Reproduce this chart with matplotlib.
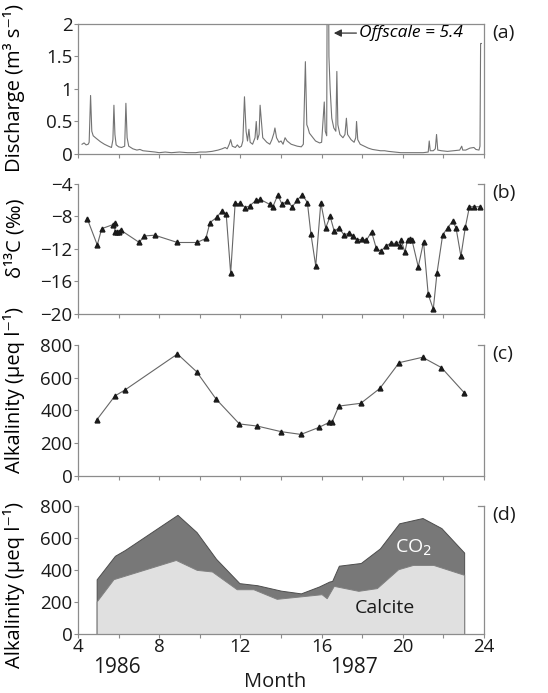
import numpy as np
import matplotlib
matplotlib.use('Agg')
import matplotlib.pyplot as plt

plt.rcParams['font.family'] = ['Open Sans', 'DejaVu Sans']
plt.rcParams['font.size'] = 13

# (a) discharge, m3/s  (month, value)
q_month = [4.2, 4.3, 4.4, 4.5, 4.55, 4.62, 4.68, 4.75, 4.9, 5.1, 5.3, 5.5, 5.65, 5.72, 5.77,
           5.82, 5.88, 6.0, 6.15, 6.3, 6.36, 6.42, 6.5, 6.7, 6.9, 7.05, 7.2, 7.5, 7.8, 8.0,
           8.3, 8.6, 9.0, 9.4, 9.8, 10.0, 10.3, 10.6, 10.9, 11.1, 11.25, 11.35, 11.45, 11.52, 11.6,
           11.75, 11.85, 11.95, 12.05, 12.12, 12.2, 12.28, 12.35, 12.42, 12.48, 12.6, 12.72, 12.78, 12.84,
           12.92, 12.97, 13.02, 13.1, 13.3, 13.45, 13.55, 13.65, 13.7, 13.78, 13.9, 14.0, 14.1, 14.2,
           14.3, 14.5, 14.8, 15.0, 15.1, 15.2, 15.27, 15.33, 15.4, 15.5, 15.7, 15.9, 16.0, 16.08,
           16.13, 16.18, 16.25, 16.3, 16.36, 16.42, 16.5, 16.6, 16.7, 16.75, 16.8, 16.9, 17.05, 17.15,
           17.22, 17.28, 17.45, 17.6, 17.68, 17.72, 17.78, 17.9, 18.1, 18.3, 18.5, 18.7, 18.9, 19.1,
           19.3, 19.6, 19.9, 20.3, 20.7, 21.0, 21.25, 21.3, 21.35, 21.5, 21.6, 21.66, 21.72, 21.9,
           22.2, 22.5, 22.8, 22.9, 22.95, 23.1, 23.3, 23.5, 23.6, 23.75, 23.8, 23.83, 23.87]
q_value = [0.15, 0.17, 0.14, 0.15, 0.18, 0.90, 0.35, 0.28, 0.24, 0.19, 0.15, 0.12, 0.10, 0.22, 0.75,
           0.30, 0.14, 0.11, 0.10, 0.12, 0.78, 0.25, 0.12, 0.08, 0.06, 0.07, 0.05, 0.04, 0.03, 0.02,
           0.03, 0.02, 0.03, 0.02, 0.02, 0.03, 0.03, 0.04, 0.06, 0.08, 0.10, 0.08, 0.15, 0.22, 0.12,
           0.10, 0.14, 0.10, 0.12, 0.20, 0.88, 0.35, 0.20, 0.38, 0.18, 0.15, 0.25, 0.50, 0.22,
           0.30, 0.75, 0.55, 0.25, 0.18, 0.15, 0.22, 0.32, 0.40, 0.25, 0.18, 0.20, 0.15, 0.25,
           0.20, 0.15, 0.12, 0.11, 0.15, 1.42, 0.45, 0.40, 0.32, 0.28, 0.20, 0.17, 0.18, 0.55,
           0.80, 0.35, 0.28, 5.4, 1.5, 1.0, 0.55, 0.40, 0.35, 1.27, 0.45, 0.30, 0.25, 0.30,
           0.55, 0.30, 0.22, 0.18, 0.25, 0.50, 0.22, 0.15, 0.12, 0.09, 0.07, 0.06, 0.05, 0.05,
           0.04, 0.03, 0.02, 0.02, 0.02, 0.02, 0.03, 0.20, 0.05, 0.05, 0.08, 0.30, 0.06, 0.05,
           0.04, 0.05, 0.06, 0.12, 0.06, 0.06, 0.09, 0.10, 0.07, 0.06, 0.12, 1.70, 1.70]

# (b) delta 13C, per mil
d13c_month = [4.46, 4.95, 5.17, 5.72, 5.8, 5.82, 5.92, 6.02, 6.12, 7.02, 7.25, 7.78, 8.9, 9.86,
              10.3, 10.5, 10.84, 11.09, 11.3, 11.52, 11.74, 11.99, 12.24, 12.45, 12.78, 12.98, 13.44,
              13.6, 13.84, 14.05, 14.3, 14.55, 14.8, 15.05, 15.3, 15.47, 15.71, 15.96, 16.2, 16.42,
              16.62, 16.86, 17.11, 17.36, 17.56, 17.74, 17.97, 18.21, 18.46, 18.69, 18.92, 19.17,
              19.41, 19.66, 19.86, 19.92, 20.1, 20.23, 20.35, 20.45, 20.76, 21.02, 21.25, 21.5,
              21.68, 21.96, 22.2, 22.45, 22.62, 22.86, 23.08, 23.28, 23.52, 23.8]
d13c_value = [-8.3, -11.5, -9.5, -9.0, -8.8, -9.85, -9.9, -9.9, -9.7, -11.2, -10.4, -10.3, -11.2, -11.2,
              -10.7, -8.75, -8.1, -7.3, -7.7, -15.0, -6.4, -6.4, -6.9, -6.7, -6.0, -5.9, -6.5,
              -6.8, -5.35, -6.5, -6.1, -6.8, -6.0, -5.3, -6.3, -10.1, -14.1, -6.3, -9.4, -8.0,
              -9.8, -9.4, -10.3, -10.0, -10.4, -10.9, -10.8, -10.9, -9.9, -11.9, -12.3, -11.6,
              -11.3, -11.3, -11.6, -10.9, -12.4, -10.9, -10.8, -10.9, -14.2, -11.1, -17.6, -19.4,
              -15.0, -10.3, -9.4, -8.6, -9.4, -12.9, -9.3, -6.8, -6.8, -6.8]

# (c) alkalinity, ueq/l
alk_month = [4.92, 5.82, 6.31, 8.9, 9.84, 10.8, 11.95, 12.83, 14.0, 14.98, 15.87, 16.38, 16.52,
             16.85, 17.93, 18.87, 19.82, 20.97, 21.9, 23.02]
alk_value = [342, 489, 525, 745, 637, 470, 318, 305, 271, 254, 297, 328, 332,
             427, 444, 535, 692, 725, 662, 509]

# (d) calcite share of alkalinity, ueq/l
calc_month = [4.92, 5.75, 8.82, 9.85, 10.6, 11.82, 12.64, 13.79, 14.94, 16.0, 16.25, 16.6,
              17.81, 18.72, 19.77, 20.5, 21.5, 23.02]
calc_value = [204, 343, 463, 401, 391, 280, 280, 220, 235, 249, 224, 301,
              270, 287, 405, 432, 432, 370]

fig = plt.figure(figsize=(5.48, 6.93), dpi=100)
left, width = 0.1423, 0.7410
ax_a = fig.add_axes([left, 0.7778, width, 0.1876])
ax_b = fig.add_axes([left, 0.5469, width, 0.1876])
ax_c = fig.add_axes([left, 0.3131, width, 0.1891])
ax_d = fig.add_axes([left, 0.0851, width, 0.1847])

spine_col = '0.55'
for ax in [ax_a, ax_b, ax_c, ax_d]:
    ax.set_xlim(4, 24)
    ax.set_xticks(np.arange(4, 25, 2))
    for s in ax.spines.values():
        s.set_color(spine_col)
        s.set_linewidth(0.9)
    ax.tick_params(axis='both', colors=spine_col, labelcolor='0.1', length=3, width=0.8,
                   pad=1, labelsize=13.5)
    if ax is not ax_d:
        ax.tick_params(axis='x', labelbottom=False)
    else:
        ax.set_xticks([4, 8, 12, 16, 20, 24])
        ax.set_xticks(np.arange(4, 25, 2), minor=True)
        ax.tick_params(axis='x', which='both', colors=spine_col, labelcolor='0.1',
                       length=3, width=0.8, pad=0)
    if ax is not ax_a:
        ax.spines['top'].set_visible(False)
        # small inward tick at the top of the right spine
        ax.plot([1, 0.985], [1, 1], transform=ax.transAxes, color=spine_col, lw=0.9,
                clip_on=False)

# (a)
ax_a.plot(q_month, q_value, color='0.45', lw=0.8)
ax_a.set_ylim(0, 2)
ax_a.set_yticks([0, 0.5, 1, 1.5, 2])
ax_a.set_yticklabels(['0', '0.5', '1', '1.5', '2'])
ax_a.set_ylabel('Discharge (m³ s⁻¹)', fontsize=14.5)
ax_a.annotate('Offscale = 5.4', xy=(16.6, 1.86), xytext=(17.85, 1.86), style='italic',
              va='center', fontsize=12.5,
              arrowprops=dict(arrowstyle='-|>', color='0.2', lw=0.9, shrinkA=0, shrinkB=0,
                              mutation_scale=11))

# (b)
ax_b.plot(d13c_month, d13c_value, color='0.4', lw=0.8, marker='^', ms=3.5,
          mfc='0.1', mec='0.1')
ax_b.set_ylim(-20, -4)
ax_b.set_yticks([-20, -16, -12, -8, -4])
ax_b.set_yticklabels(['\u221220', '\u221216', '\u221212', '\u22128', '\u22124'])
ax_b.set_ylabel('δ¹³C (‰)', fontsize=14.5)

# (c)
ax_c.plot(alk_month, alk_value, color='0.4', lw=0.8, marker='^', ms=3.5,
          mfc='0.1', mec='0.1')
ax_c.set_ylim(0, 800)
ax_c.set_yticks([0, 200, 400, 600, 800])
ax_c.set_ylabel('Alkalinity (μeq l⁻¹)', fontsize=14.5)

# (d)
ax_d.fill_between(alk_month, 0, alk_value, facecolor='0.47', edgecolor='0.3', lw=0.7)
ax_d.fill_between(calc_month, 0, calc_value, facecolor='0.88', edgecolor='0.5', lw=0.7)
ax_d.set_ylim(0, 800)
ax_d.set_yticks([0, 200, 400, 600, 800])
ax_d.set_ylabel('Alkalinity (μeq l⁻¹)', fontsize=14.5)
ax_d.text(20.5, 540, 'CO$_2$', color='white', ha='center', va='center', fontsize=14)
ax_d.text(19.1, 160, 'Calcite', color='0.1', ha='center', va='center', fontsize=14)
ax_d.text(5.9, -0.26, '1986', transform=ax_d.get_xaxis_transform(), ha='center',
          va='center', fontsize=15, color='0.1')
ax_d.text(17.6, -0.26, '1987', transform=ax_d.get_xaxis_transform(), ha='center',
          va='center', fontsize=15, color='0.1')
ax_d.set_xlabel('Month', fontsize=14.5, color='0.1')
ax_d.xaxis.set_label_coords(0.485, -0.30)
ax_d.xaxis.label.set_va('top')

# panel letters and y-label placement
for ax, letter in zip([ax_a, ax_b, ax_c, ax_d], ['(a)', '(b)', '(c)', '(d)']):
    ax.text(1.02, 0.93, letter, transform=ax.transAxes, ha='left', va='center',
            fontsize=14, color='0.1')

ax_a.yaxis.set_label_coords(-0.13, 0.51)
ax_b.yaxis.set_label_coords(-0.13, 0.58)
ax_c.yaxis.set_label_coords(-0.13, 0.66)
ax_d.yaxis.set_label_coords(-0.13, 0.38)

fig.savefig('out.png', dpi=100)
